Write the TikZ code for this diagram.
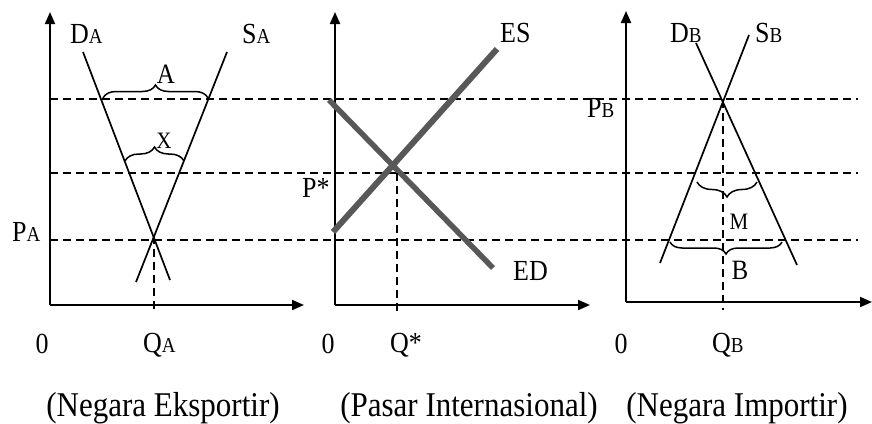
\documentclass[tikz,border=0pt]{standalone}
\usepackage{fontspec}
\setmainfont{Liberation Serif}
\usepackage{graphicx}
\usetikzlibrary{arrows.meta,decorations.pathreplacing}
\definecolor{exgray}{RGB}{88,88,88}
\newcommand{\tl}[1]{\scalebox{1}[1.12]{#1}}
\newcommand{\sbl}[2]{\tl{#1{\fontsize{19}{19}\selectfont #2}}}
\begin{document}
\begin{tikzpicture}[x=1pt,y=-1pt,
  axis/.style={line width=1.9pt,-{Triangle[length=12pt,width=10pt]}},
  curve/.style={line width=1.7pt},
  guide/.style={line width=1.8pt,dash pattern=on 8pt off 5pt},
  excess/.style={line width=5.5pt,draw=exgray},
  lbl/.style={font=\fontsize{26}{26}\selectfont,inner sep=0pt,anchor=base west},
  num/.style={font=\fontsize{26}{26}\selectfont,inner sep=0pt,anchor=base},
  small/.style={font=\fontsize{21}{21}\selectfont,inner sep=0pt},
  capt/.style={font=\fontsize{31}{31}\selectfont,inner sep=0pt,anchor=base},
  brc/.style={decorate,decoration={brace,amplitude=#1},line width=1.5pt}
]
\useasboundingbox (0,0) rectangle (872,423);

% ---------- axes ----------
\coordinate (o1) at (50,305);
\coordinate (y1) at (50,12);
\coordinate (x1) at (304,305);
\coordinate (o2) at (335,305);
\coordinate (y2) at (335,12);
\coordinate (x2) at (590,305);
\coordinate (o3) at (626,302);
\coordinate (y3) at (626,11);
\coordinate (x3) at (872,302);
\draw[axis] (o1) -- (y1);
\draw[axis] (o1) -- (x1);
\draw[axis] (o2) -- (y2);
\draw[axis] (o2) -- (x2);
\draw[axis] (o3) -- (y3);
\draw[axis] (o3) -- (x3);

% ---------- horizontal guides ----------
\coordinate (h1l) at (50,99);  \coordinate (h1r) at (858,99);
\coordinate (h2l) at (50,173); \coordinate (h2r) at (858,173);
\coordinate (h3l) at (50,240); \coordinate (h3r) at (858,240);
\draw[guide] (h1l) -- (h1r);
\draw[guide] (h2l) -- (h2r);
\draw[guide] (h3l) -- (h3r);

% ---------- panel 1 ----------
\coordinate (da1) at (83,52);   \coordinate (da2) at (170,280);
\coordinate (sa1) at (227,52);  \coordinate (sa2) at (136,282);
\draw[curve] (da1) -- (da2);
\draw[curve] (sa1) -- (sa2);
\coordinate (ea) at (154,236);  \coordinate (eab) at (154,313);
\draw[guide] (ea) -- (eab);
\coordinate (ba1) at (103,98);  \coordinate (ba2) at (208,98);
\draw[brc=13pt] (ba1) -- (ba2);
\coordinate (bx1) at (125,161); \coordinate (bx2) at (184,161);
\draw[brc=14pt] (bx1) -- (bx2);
\node[lbl] (DA) at (70,43) {\sbl{D}{A}};
\node[lbl] (SA) at (242,43) {\sbl{S}{A}};
\node[lbl] (PA) at (12,241) {\sbl{P}{A}};
\node[small,font=\fontsize{25}{25}\selectfont] (Albl) at (166,74) {\tl{A}};
\node[small] (Xlbl) at (164,141) {\tl{X}};
\node[num] (z1) at (42,353) {\tl{0}};
\node[lbl] (QA) at (143,352) {\sbl{Q}{A}};

% ---------- panel 2 ----------
\coordinate (es1) at (333,232); \coordinate (es2) at (497,49);
\coordinate (ed1) at (329,100); \coordinate (ed2) at (493,268);
\draw[excess,line width=6pt] (es1) -- (es2);
\draw[excess] (ed1) -- (ed2);
\coordinate (e2) at (397,173);  \coordinate (e2b) at (397,312);
\draw[guide] (e2) -- (e2b);
\node[lbl] (ES) at (500,42) {\tl{ES}};
\node[lbl] (ED) at (513,280) {\tl{ED}};
\node[lbl] (Ps) at (302,197) {\tl{P*}};
\node[num] (z2) at (328,353) {\tl{0}};
\node[lbl] (Qs) at (390,352) {\tl{Q*}};

% ---------- panel 3 ----------
\coordinate (db1) at (696,43);  \coordinate (db2) at (797,265);
\coordinate (sb1) at (749,35);  \coordinate (sb2) at (660,263);
\draw[curve] (db1) -- (db2);
\draw[curve] (sb1) -- (sb2);
\coordinate (e3) at (723,100);  \coordinate (e3b) at (723,310);
\draw[guide] (e3) -- (e3b);
\coordinate (bm1) at (757,182); \coordinate (bm2) at (697,182);
\draw[brc=15pt] (bm1) -- (bm2);
\coordinate (bb1) at (782,242); \coordinate (bb2) at (670,242);
\draw[brc=12pt] (bb1) -- (bb2);
\node[lbl] (DB) at (670,42) {\sbl{D}{B}};
\node[lbl] (SB) at (755,42) {\sbl{S}{B}};
\node[lbl] (PB) at (587,117) {\sbl{P}{B}};
\node[small] (Mlbl) at (739,222) {\tl{M}};
\node[small,font=\fontsize{25}{25}\selectfont] (Blbl) at (740,270) {\tl{B}};
\node[num] (z3) at (621,353) {\tl{0}};
\node[lbl] (QB) at (712,352) {\sbl{Q}{B}};

% ---------- captions ----------
\node[capt] (c1) at (163,416) {\tl{(Negara Eksportir)}};
\node[capt] (c2) at (469,416) {\tl{(Pasar Internasional)}};
\node[capt] (c3) at (737,416) {\tl{(Negara Importir)}};
\end{tikzpicture}
\end{document}
